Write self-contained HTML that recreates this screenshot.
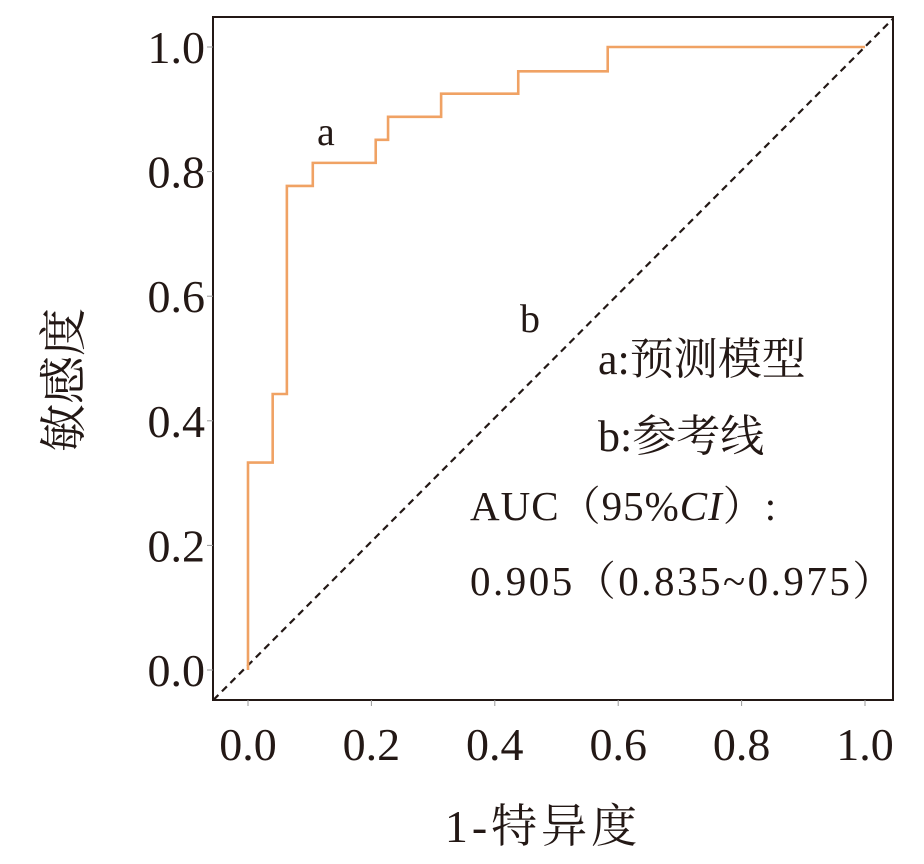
<!DOCTYPE html>
<html><head><meta charset="utf-8"><style>
body{margin:0;background:#fff;}
svg text{font-family:"Liberation Serif","Noto Serif CJK SC",serif;fill:#231815;}
</style></head><body>
<svg width="924" height="859" viewBox="0 0 924 859">
<g id="g"></g>
</svg>
<script>
const xTicks=[0.0,0.2,0.4,0.6,0.8,1.0];
const yTicks=[0.0,0.2,0.4,0.6,0.8,1.0];
const tickLabels=["0.0","0.2","0.4","0.6","0.8","1.0"];
const fpr=[0,0,0.04,0.04,0.063,0.063,0.105,0.105,0.207,0.207,0.227,0.227,0.313,0.313,0.438,0.438,0.583,0.583,1.0];
const tpr=[0,0.333,0.333,0.443,0.443,0.777,0.777,0.814,0.814,0.851,0.851,0.888,0.888,0.925,0.925,0.961,0.961,1.0,1.0];
const NS="http://www.w3.org/2000/svg";
const g=document.getElementById('g');
const X=v=>248+v*617, Y=v=>670-v*623;
function mk(t,a,txt){const e=document.createElementNS(NS,t);for(const k in a)e.setAttribute(k,a[k]);if(txt!=null)e.textContent=txt;g.appendChild(e);return e;}
const L=213,R=893,T=17,B=700;
let d=mk('line',{x1:X(-0.056),y1:Y(-0.048),x2:X(1.046),y2:Y(1.046),stroke:'#231815','stroke-width':2.2,'stroke-dasharray':'7,5'});


let pts=fpr.map((v,i)=>X(v)+','+Y(tpr[i])).join(' ');
let r=mk('polyline',{points:pts,fill:'none',stroke:'#f0a264','stroke-width':2.6});


let wb=mk('rect',{x:466,y:477,width:R-466,height:B-477,fill:'#fff'});


let f=mk('rect',{x:L,y:T,width:R-L,height:B-T,fill:'none',stroke:'#231815','stroke-width':2});


xTicks.forEach((v,i)=>{
 let t=mk('line',{x1:X(v),y1:B,x2:X(v),y2:B+6,stroke:'#999','stroke-width':1});
 
 
 let l=mk('text',{x:X(v),y:760,'font-size':46,'text-anchor':'middle'},tickLabels[i]);
 
 
});
yTicks.forEach((v,i)=>{
 let t=mk('line',{x1:L-6,y1:Y(v),x2:L,y2:Y(v),stroke:'#999','stroke-width':1});
 
 
 let l=mk('text',{x:205,y:Y(v)+16,'font-size':46,'text-anchor':'end'},tickLabels[i]);
 
 
});
function txt(name,x,y,s,size,extra){let e=mk('text',Object.assign({x:x,y:y,'font-size':size},extra||{}),s);return e;}
txt('x-axis-title',543,842,'1-特异度',46,{'text-anchor':'middle','letter-spacing':4});
txt('y-axis-title',0,0,'敏感度',48,{'text-anchor':'middle',transform:'translate(80,380) rotate(-90)'});
txt('label-a',317,145,'a',40);
txt('label-b',520,332,'b',40);
txt('legend-a',598,374,'a:预测模型',44);
txt('legend-b',598,451,'b:参考线',44);
let auc=txt('auc-label',470,520,'',41,{'letter-spacing':1});
auc.innerHTML='AUC（95%<tspan font-style="italic">CI</tspan>）:';
txt('auc-value',470,595,'0.905（0.835~0.975）',41,{'letter-spacing':2.5});
</script>
</body></html>
